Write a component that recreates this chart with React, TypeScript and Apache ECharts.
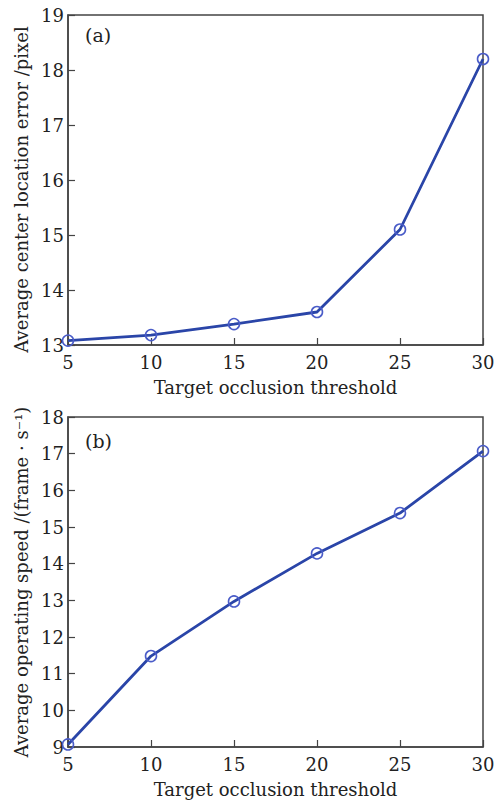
import React, { useEffect, useRef } from "react";
import * as echarts from "echarts";

const thresholds = [5, 10, 15, 20, 25, 30];
const errorValues = [13.08, 13.18, 13.38, 13.6, 15.1, 18.2];
const speedValues = [9.07, 11.48, 12.97, 14.28, 15.38, 17.07];
const xLabel = "Target occlusion threshold";
const yLabelA = "Average center location error /pixel";
const yLabelB = "Average operating speed /(frame \u00b7 s\u207b\u00b9)";
const panelA = "(a)";
const panelB = "(b)";

const FONT = "DejaVu Serif";
const AXIS_COLOR = "#444";
const LINE_COLOR = "#2a45a8";
const MARKER_COLOR = "#4a5cc8";

export default function App() {
  const ref = useRef<HTMLDivElement>(null);
  useEffect(() => {
    document.body.style.margin = "0";
    const chart = echarts.init(ref.current!, undefined, { renderer: "svg" });
    const xAxisCommon = (gridIndex: number) => ({
      type: "value" as const,
      gridIndex,
      min: 5,
      max: 30,
      interval: 5,
      name: xLabel,
      nameLocation: "middle" as const,
      nameGap: 33,
      nameTextStyle: { fontFamily: FONT, fontSize: 18, color: "#222" },
      axisLine: { show: true, lineStyle: { color: AXIS_COLOR, width: 1.5 } },
      axisTick: { show: true, inside: true, length: 7, lineStyle: { color: AXIS_COLOR, width: 1.2 } },
      axisLabel: { fontFamily: FONT, fontSize: 18, color: "#222", margin: 8 },
      splitLine: { show: false },
    });
    const yAxisCommon = (gridIndex: number, min: number, max: number, name: string, shift: number) => ({
      type: "value" as const,
      gridIndex,
      min,
      max,
      interval: 1,
      name,
      nameLocation: "middle" as const,
      nameGap: 37,
      nameTextStyle: { fontFamily: FONT, fontSize: 18, color: "#222", padding: [0, shift, 0, 0] },
      axisLine: { show: true, lineStyle: { color: AXIS_COLOR, width: 1.5 } },
      axisTick: { show: true, inside: true, length: 7, lineStyle: { color: AXIS_COLOR, width: 1.2 } },
      axisLabel: { fontFamily: FONT, fontSize: 18, color: "#222", margin: 4 },
      splitLine: { show: false },
    });
    const seriesCommon = {
      type: "line" as const,
      symbol: "circle",
      symbolSize: 11,
      showSymbol: true,
      lineStyle: { color: LINE_COLOR, width: 2.8 },
      itemStyle: { color: "rgba(255,255,255,0)", borderColor: MARKER_COLOR, borderWidth: 1.6 },
      z: 3,
    };
    chart.setOption({
      animation: false,
      backgroundColor: "#fff",
      grid: [
        { left: 68, right: 19, top: 15, height: 330, show: true, borderColor: AXIS_COLOR, borderWidth: 1.5, backgroundColor: "transparent" },
        { left: 68, right: 19, top: 417, height: 330, show: true, borderColor: AXIS_COLOR, borderWidth: 1.5, backgroundColor: "transparent" },
      ],
      xAxis: [xAxisCommon(0), xAxisCommon(1)],
      yAxis: [yAxisCommon(0, 13, 19, yLabelA, 19), yAxisCommon(1, 9, 18, yLabelB, 0)],
      series: [
        { ...seriesCommon, xAxisIndex: 0, yAxisIndex: 0, data: thresholds.map((t, i) => [t, errorValues[i]]) },
        { ...seriesCommon, xAxisIndex: 1, yAxisIndex: 1, data: thresholds.map((t, i) => [t, speedValues[i]]) },
      ],
      graphic: [
        { type: "text", left: 85, top: 25, style: { text: panelA, fontFamily: FONT, fontSize: 19, fill: "#222" } },
        { type: "text", left: 85, top: 431, style: { text: panelB, fontFamily: FONT, fontSize: 19, fill: "#222" } },
      ],
    });
    return () => chart.dispose();
  }, []);
  return <div ref={ref} style={{ width: 502, height: 801 }} />;
}
